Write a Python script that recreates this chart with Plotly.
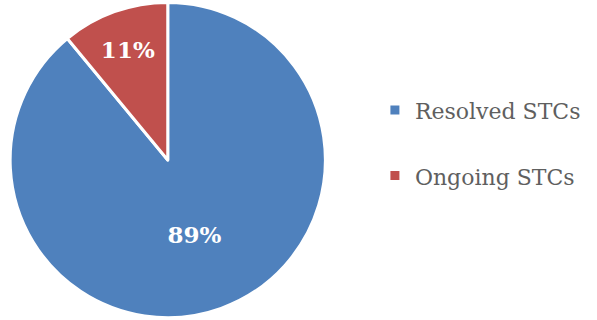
import plotly.graph_objects as go

labels = ["Resolved STCs", "Ongoing STCs"]
values = [89, 11]
colors = ["#4F81BD", "#C0504D"]

# legend entries: second (blank) line gives the wide vertical spacing of the original
legend_labels = ['<span style="font-size:22px">%s</span><br> ' % l for l in labels]

fig = go.Figure(go.Pie(
    labels=legend_labels,
    values=values,
    sort=False,
    direction="clockwise",
    rotation=0,
    marker=dict(colors=colors, line=dict(color="white", width=3)),
    texttemplate="%{percent:.0%}",
    textposition="inside",
    insidetextorientation="horizontal",
    textfont=dict(family="DejaVu Serif", size=23, color="white", weight="bold"),
    domain=dict(x=[0.017, 0.545], y=[0, 1]),
    hoverinfo="percent",
))

fig.update_layout(
    width=597, height=320,
    margin=dict(l=0, r=0, t=0, b=0),
    paper_bgcolor="white",
    showlegend=True,
    legend=dict(
        x=0.628, y=0.505, xanchor="left", yanchor="middle",
        font=dict(family="DejaVu Serif", size=24, color="#5f5f5f"),
        valign="top",
        itemwidth=30,
        tracegroupgap=0,
    ),
)

fig.write_html("out.html", config={"displayModeBar": False},
               post_script="document.body.style.margin='0';")
